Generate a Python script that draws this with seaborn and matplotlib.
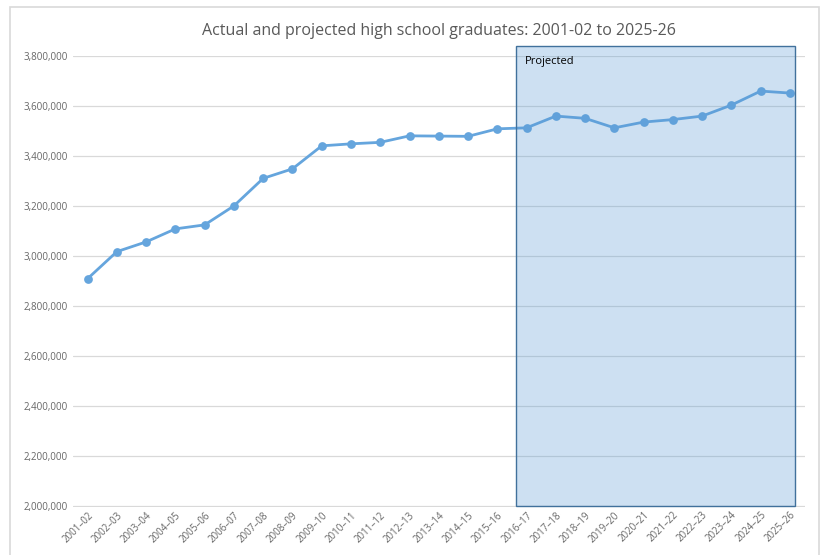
import pandas as pd
import matplotlib.pyplot as plt
import seaborn as sns
from matplotlib.patches import Rectangle
from matplotlib.ticker import FuncFormatter

# data
years = ["2001–02", "2002–03", "2003–04", "2004–05", "2005–06", "2006–07", "2007–08",
         "2008–09", "2009–10", "2010–11", "2011–12", "2012–13", "2013–14", "2014–15",
         "2015–16", "2016–17", "2017–18", "2018–19", "2019–20", "2020–21", "2021–22",
         "2022–23", "2023–24", "2024–25", "2025–26"]
graduates = [2910000, 3018000, 3057000, 3109000, 3125000, 3201000, 3311000,
             3349000, 3441000, 3449000, 3455000, 3481000, 3480000, 3479000,
             3509000, 3513000, 3560000, 3551000, 3513000, 3536000, 3546000,
             3560000, 3604000, 3660000, 3652000]
projected_from = "2016–17"
title = "Actual and projected high school graduates: 2001-02 to 2025-26"

df = pd.DataFrame({"year": years, "graduates": graduates})

sns.set_theme(style="white")
plt.rcParams["font.family"] = ["Open Sans", "DejaVu Sans"]

fig = plt.figure(figsize=(8.22, 5.55), dpi=100)
ax = fig.add_axes([0.0888, 0.0865, 0.890, 0.8125])

# outer chart frame
fig.patches.append(Rectangle((10 / 822, -0.05), 809 / 822, 1 - 7 / 555 + 0.05,
                             transform=fig.transFigure, fill=False,
                             edgecolor="#D9D9D9", linewidth=1.2))

sns.lineplot(data=df, x="year", y="graduates", sort=False, ax=ax,
             color="#65A5DD", linewidth=2.0, marker="o", markersize=6.3,
             markeredgewidth=0, zorder=3)

ax.set_xlim(-0.5, len(years) - 0.5)
ax.set_ylim(1997000, 3800000)
ax.set_yticks(range(2000000, 3800001, 200000))
ax.yaxis.set_major_formatter(FuncFormatter(lambda v, p: f"{int(v):,}"))
ax.grid(axis="y", color="#D9D9D9", linewidth=0.9)
ax.set_axisbelow(True)
for s in ax.spines.values():
    s.set_visible(False)
ax.tick_params(axis="both", length=0, colors="#666666", labelsize=7)
ax.tick_params(axis="x", pad=2)
plt.setp(ax.get_xticklabels(), rotation=45, ha="right", rotation_mode="anchor")
ax.set_xlabel("")
ax.set_ylabel("")

# projected box
start = years.index(projected_from) - 0.35
end = len(years) - 1 + 0.17
ax.add_patch(Rectangle((start, 2000000), end - start, 1840000,
                       facecolor="#5B9BD5", alpha=0.3, edgecolor="none",
                       zorder=4, clip_on=False))
ax.add_patch(Rectangle((start, 2000000), end - start, 1840000,
                       fill=False, edgecolor="#41719C", linewidth=1.0,
                       zorder=4, clip_on=False))
ax.text(start + 0.3, 3800000, "Projected", fontsize=8, color="black",
        va="top", ha="left", zorder=5)

fig.text(0.5 * (73 + 805) / 822, 1 - 31 / 555, title, ha="center", va="center",
         fontsize=11.5, color="#595959")

fig.savefig("out.png", dpi=100)
